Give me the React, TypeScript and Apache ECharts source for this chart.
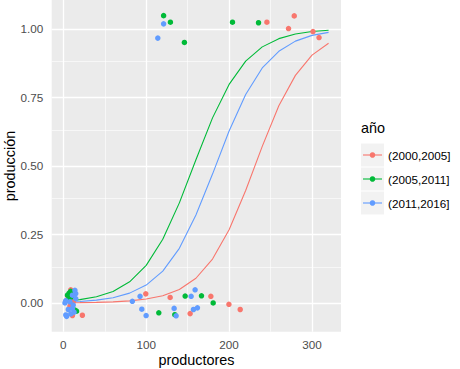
import React, { useEffect, useRef } from 'react';
import * as echarts from 'echarts';

const groups = ['(2000,2005]', '(2005,2011]', '(2011,2016]'];
const colors = ['#F8766D', '#00BA38', '#619CFF'];

const xTicks = [0, 100, 200, 300];
const xMinor = [50, 150, 250];
const yTicks = [0, 0.25, 0.5, 0.75, 1];
const yMinor = [0.125, 0.375, 0.625, 0.875];

const fitX = [0, 20, 40, 60, 80, 100, 120, 140, 160, 180, 200, 220, 240, 260, 280, 300, 320];
const fitRed = [0.0006, 0.001, 0.002, 0.0038, 0.0073, 0.014, 0.026, 0.049, 0.09, 0.16, 0.267, 0.41, 0.571, 0.719, 0.83, 0.904, 0.947];
const fitGreen = [0.0064, 0.012, 0.0226, 0.042, 0.077, 0.137, 0.232, 0.365, 0.522, 0.675, 0.797, 0.882, 0.934, 0.964, 0.981, 0.99, 0.9946];
const fitBlue = [0.003, 0.0054, 0.0103, 0.019, 0.0357, 0.065, 0.116, 0.199, 0.321, 0.47, 0.627, 0.76, 0.857, 0.918, 0.955, 0.976, 0.987];

const pointsRed = [
  [9, 0.048], [11, -0.046], [23, -0.045], [6, 0.02], [12, 0.004], [8, -0.012],
  [99.5, 0.033], [128.9, 0.02], [178, 0.024], [199.8, -0.005], [213.4, -0.024], [153, -0.039],
  [245.6, 1.024], [278.6, 1.047], [271.7, 1.001], [301.2, 0.99], [308.5, 0.968],
];
const pointsGreen = [
  [7, 0.036], [9, 0.042], [5, 0.028], [10, 0.022], [16, -0.03], [14, -0.026], [6, 0.012],
  [147, 0.025], [166.7, 0.026], [180.8, 0.0], [115.2, -0.036], [134.5, -0.043],
  [121, 1.048], [129.2, 1.024], [146.1, 0.95], [204.1, 1.024], [235.5, 1.022],
];
const pointsBlue = [
  [14, 0.046], [15, 0.034], [11, 0.028], [3, 0.008], [8, 0.004], [6, -0.024], [11, -0.02],
  [4, -0.049], [13, -0.034], [9, -0.04], [15, 0.016], [2, 0.0], [12, -0.008], [3, -0.044],
  [83.3, 0.006], [92.6, 0.024], [94.7, -0.023], [99.9, -0.046], [133.7, -0.02], [136.1, -0.047],
  [154.2, 0.024], [159, 0.048], [157, -0.024], [161.8, -0.018],
  [121, 1.018], [114, 0.966],
];

const fits = [fitRed, fitGreen, fitBlue];
const points = [pointsRed, pointsGreen, pointsBlue];

const FONT = 'Liberation Sans, Arial, sans-serif';

export default function App() {
  const ref = useRef<HTMLDivElement>(null);
  useEffect(() => {
    if (!ref.current) return;
    const chart = echarts.init(ref.current, null, { renderer: 'svg' });
    const gridLines: any[] = [];
    xMinor.forEach((v) => gridLines.push({ xAxis: v, lineStyle: { color: '#fff', width: 0.6, type: 'solid' } }));
    yMinor.forEach((v) => gridLines.push({ yAxis: v, lineStyle: { color: '#fff', width: 0.6, type: 'solid' } }));
    xTicks.forEach((v) => gridLines.push({ xAxis: v, lineStyle: { color: '#fff', width: 1.3, type: 'solid' } }));
    yTicks.forEach((v) => gridLines.push({ yAxis: v, lineStyle: { color: '#fff', width: 1.3, type: 'solid' } }));

    const series: any[] = [
      {
        type: 'line',
        data: [],
        silent: true,
        z: 1,
        markLine: {
          z: 1,
          silent: true,
          symbol: ['none', 'none'],
          label: { show: false },
          emphasis: { disabled: true },
          data: gridLines,
        },
      },
    ];
    groups.forEach((g, i) => {
      series.push({
        type: 'line',
        name: g,
        data: fitX.map((x, k) => [x, fits[i][k]]),
        showSymbol: false,
        symbol: 'none',
        lineStyle: { color: colors[i], width: 1.1 },
        z: 3,
        silent: true,
      });
    });
    groups.forEach((g, i) => {
      series.push({
        type: 'scatter',
        name: g,
        data: points[i],
        symbol: 'circle',
        symbolSize: 5.5,
        itemStyle: { color: colors[i], opacity: 1 },
        z: 4,
        silent: true,
      });
    });

    const legendRows = [155, 179, 203];
    const legendGraphics: any[] = [
      {
        type: 'text',
        x: 361,
        y: 128,
        style: { text: 'año', fontSize: 14.4, fontFamily: FONT, fill: '#000', align: 'left', verticalAlign: 'middle' },
      },
    ];
    groups.forEach((g, i) => {
      const cy = legendRows[i];
      legendGraphics.push(
        { type: 'rect', shape: { x: 361, y: cy - 11.5, width: 23, height: 23 }, style: { fill: '#F2F2F2' } },
        { type: 'line', shape: { x1: 363, y1: cy, x2: 382, y2: cy }, style: { stroke: colors[i], lineWidth: 1.1 } },
        { type: 'circle', shape: { cx: 372.5, cy, r: 2.75 }, style: { fill: colors[i] } },
        {
          type: 'text',
          x: 388,
          y: cy,
          style: { text: g, fontSize: 11.7, fontFamily: FONT, fill: '#000', align: 'left', verticalAlign: 'middle' },
        }
      );
    });

    chart.setOption({
      animation: false,
      backgroundColor: '#fff',
      textStyle: { fontFamily: FONT },
      grid: {
        left: 51.7,
        right: 119,
        top: 0,
        bottom: 37.3,
        show: true,
        backgroundColor: '#EBEBEB',
        borderWidth: 0,
      },
      xAxis: {
        type: 'value',
        min: -14,
        max: 335,
        axisLine: { show: false },
        splitLine: { show: false },
        axisTick: { show: true, length: 3.7, customValues: xTicks, lineStyle: { color: '#333333', width: 1 } },
        axisLabel: { customValues: xTicks, color: '#4D4D4D', fontSize: 11.7, margin: 7, fontFamily: FONT },
      },
      yAxis: {
        type: 'value',
        min: -0.105,
        max: 1.105,
        axisLine: { show: false },
        splitLine: { show: false },
        axisTick: { show: true, length: 3.7, customValues: yTicks, lineStyle: { color: '#333333', width: 1 } },
        axisLabel: {
          customValues: yTicks,
          color: '#4D4D4D',
          fontSize: 11.7,
          margin: 8.4,
          fontFamily: FONT,
          formatter: (v: number) => v.toFixed(2),
        },
      },
      graphic: [
        {
          type: 'text',
          x: 196.4,
          y: 360,
          style: { text: 'productores', fontSize: 14.4, fontFamily: FONT, fill: '#000', align: 'center', verticalAlign: 'middle' },
        },
        {
          type: 'text',
          x: 10,
          y: 166,
          rotation: Math.PI / 2,
          style: { text: 'producción', fontSize: 14.4, fontFamily: FONT, fill: '#000', align: 'center', verticalAlign: 'middle' },
        },
        ...legendGraphics,
      ],
      series,
    });
    return () => chart.dispose();
  }, []);
  return (
    <div
      ref={ref}
      style={{ position: 'fixed', left: 0, top: 0, width: 460, height: 369 }}
    />
  );
}
